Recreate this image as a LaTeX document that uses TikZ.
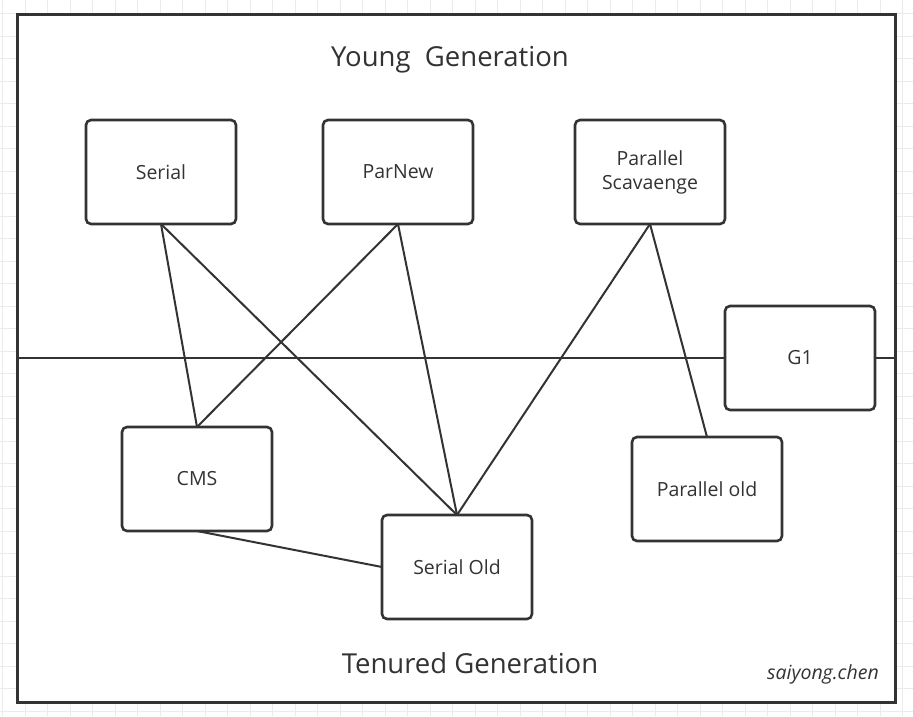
\documentclass[tikz,border=0pt]{standalone}
\usepackage{fontspec}
\setmainfont{Open Sans}
\usepackage{tikz}

\definecolor{ink}{HTML}{333333}
\definecolor{gridgray}{HTML}{EBEBEB}

\tikzset{
	gcbox/.style={draw=ink, line width=2.6pt, rounded corners=5pt, fill=white,
		minimum width=150pt, minimum height=104pt, outer sep=0pt, align=center,
		text=ink, font=\fontsize{19.5}{24}\selectfont},
	link/.style={draw=ink, line width=2pt},
	gentitle/.style={text=ink, font=\fontsize{27.5}{32}\selectfont},
}

\begin{document}
\begin{tikzpicture}[x=1pt, y=-1pt]
	\useasboundingbox (0,0) rectangle (913,716);
	% background grid
	\foreach \gx in {0,...,40} \draw[gridgray, line width=1pt] (2.5+22.5*\gx,0) -- (2.5+22.5*\gx,716);
	\foreach \gy in {0,...,31} \draw[gridgray, line width=1pt] (0,13.5+22.5*\gy) -- (913,13.5+22.5*\gy);
	% frame
	\node (frame) [draw=ink, line width=3pt, fill=white, minimum width=878pt, minimum height=688pt, outer sep=0pt] at (456,358) {};
	\node (young) [gentitle] at (450,59.5) {Young\ \ Generation};
	\node (tenured) [gentitle] at (470,663) {Tenured Generation};
	\node (sign) [text=ink, font=\fontsize{19.5}{24}\selectfont\itshape] at (823,674) {saiyong.chen};

	% collectors
	\node (serial) [gcbox] at (161,172) {Serial};
	\node (parnew) [gcbox] at (398,172) {ParNew};
	\node (scav) [gcbox] at (650,172) {Parallel\\Scavaenge};
	\node (g1) [gcbox] at (800,358) {G1};
	\node (cms) [gcbox] at (197,479) {CMS};
	\node (serialold) [gcbox] at (457,567) {Serial Old};
	\node (parold) [gcbox] at (707,489) {Parallel old};

	% divider
	\draw[link] (frame.west) -- (g1.west);
	\draw[link] (g1.east) -- (frame.east);

	% combinations
	\draw[link] (serial.south) -- (cms.north);
	\draw[link] (serial.south) -- (serialold.north);
	\draw[link] (parnew.south) -- (cms.north);
	\draw[link] (parnew.south) -- (serialold.north);
	\draw[link] (scav.south) -- (serialold.north);
	\draw[link] (scav.south) -- (parold.north);
	\draw[link] (cms.south) -- (serialold.west);
\end{tikzpicture}
\end{document}
